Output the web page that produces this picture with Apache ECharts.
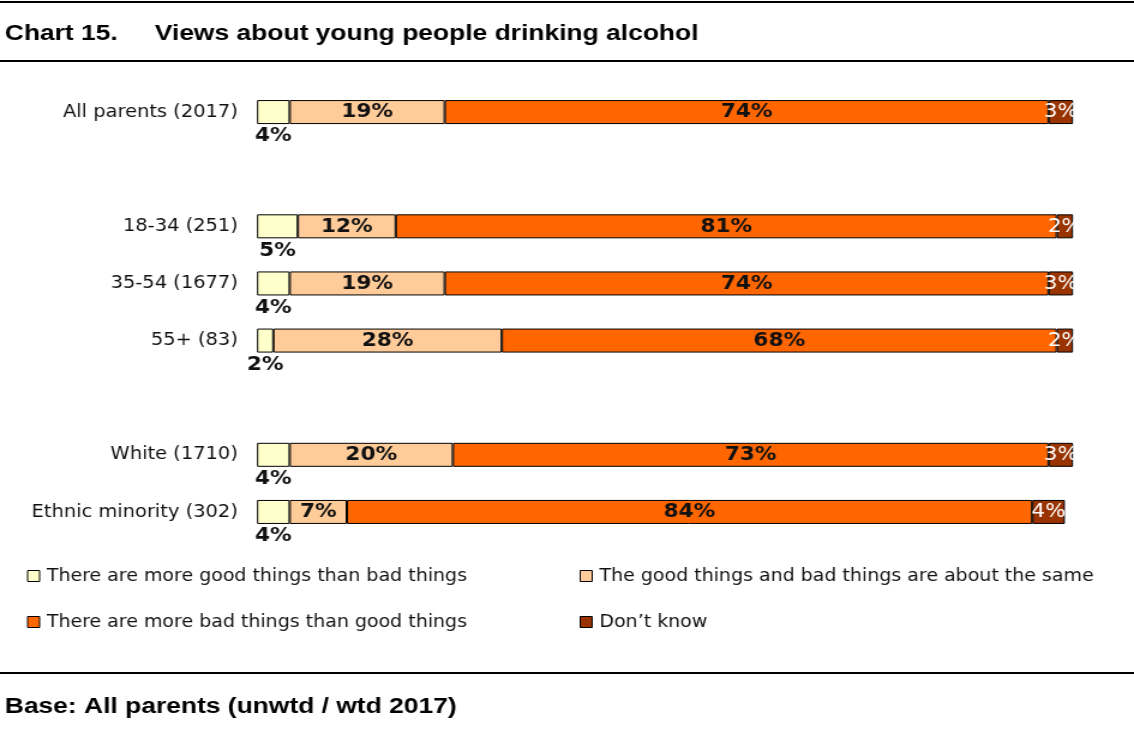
<!DOCTYPE html>
<html>
<head>
<meta charset="utf-8">
<script src="https://cdn.jsdelivr.net/npm/echarts@6/dist/echarts.min.js"></script>
<style>
  html, body { margin: 0; padding: 0; background: #fff; overflow: hidden; }
  /* the reference is a horizontally stretched picture, so the chart is drawn
     narrower and stretched back out to 1134px */
  #main { width: 945px; height: 730px; transform: scaleX(1.2); transform-origin: 0 0; }
</style>
</head>
<body>
<div id="main"></div>
<script>
// rows, blank strings are the spacer rows between groups
var categories = ['All parents (2017)', '', '18-34 (251)', '35-54 (1677)', '55+ (83)', ' ', 'White (1710)', 'Ethnic minority (302)']
var seriesNames = [
  'There are more good things than bad things',
  'The good things and bad things are about the same',
  'There are more bad things than good things',
  'Don\u2019t know'
]
var moreGood = [4, null, 5, 4, 2, null, 4, 4]
var aboutSame = [19, null, 12, 19, 28, null, 20, 7]
var moreBad = [74, null, 81, 74, 68, null, 73, 84]
var dontKnow = [3, null, 2, 3, 2, null, 3, 4]

var colors = ['#FFFFCC', '#FFCC99', '#FF6600', '#993300']
var labelFont = '"DejaVu Sans Condensed", "DejaVu Sans", sans-serif'
var headFont = '"Liberation Sans", Arial, sans-serif'
var headStyle = { fontFamily: headFont, fontSize: 22, fontWeight: 'bold', color: '#000' }

function makeSeries(name, data, color, label) {
  return {
    name: name,
    type: 'bar',
    stack: 'total',
    data: data,
    barWidth: 24,
    itemStyle: { color: color, borderColor: '#000', borderWidth: 1 },
    label: Object.assign({
      show: true,
      formatter: '{c}%',
      fontFamily: labelFont,
      fontWeight: 'bold',
      fontSize: 20,
      color: '#111'
    }, label)
  }
}

function legendFor(names, left) {
  return {
    data: names,
    orient: 'vertical',
    left: left, top: 567,
    padding: 0,
    itemWidth: 10, itemHeight: 11, itemGap: 28,
    icon: 'rect',
    itemStyle: { borderColor: '#000', borderWidth: 1 },
    textStyle: { fontFamily: labelFont, fontSize: 17.6, color: '#111', padding: [0, 0, 0, 1] }
  }
}

var myChart = echarts.init(document.getElementById('main'))
myChart.setOption({
  animation: false,
  title: [
    { text: 'Chart 15.', left: 4, top: 23, padding: 0, textStyle: headStyle },
    { text: 'Views about young people drinking alcohol', left: 129, top: 23, padding: 0, textStyle: headStyle },
    { text: 'Base: All parents (unwtd / wtd 2017)', left: 4, top: 696, padding: 0, textStyle: headStyle }
  ],
  graphic: [
    { type: 'line', shape: { x1: 0, y1: 2, x2: 945, y2: 2 }, style: { stroke: '#000', lineWidth: 2 } },
    { type: 'line', shape: { x1: 0, y1: 61, x2: 945, y2: 61 }, style: { stroke: '#000', lineWidth: 2 } },
    { type: 'line', shape: { x1: 0, y1: 673, x2: 945, y2: 673 }, style: { stroke: '#000', lineWidth: 2 } }
  ],
  legend: [
    legendFor([seriesNames[0], seriesNames[2]], 22.5),
    legendFor([seriesNames[1], seriesNames[3]], 483)
  ],
  grid: { left: 214.2, top: 83.5, width: 680, height: 457 },
  xAxis: { type: 'value', min: 0, max: 100, show: false },
  yAxis: {
    type: 'category',
    data: categories,
    inverse: true,
    axisLine: { show: false },
    axisTick: { show: false },
    axisLabel: { fontFamily: labelFont, fontSize: 18, color: '#111', margin: 16 }
  },
  series: [
    makeSeries(seriesNames[0], moreGood, colors[0], { position: 'bottom', distance: 2 }),
    makeSeries(seriesNames[1], aboutSame, colors[1], { position: 'inside' }),
    makeSeries(seriesNames[2], moreBad, colors[2], { position: 'inside' }),
    makeSeries(seriesNames[3], dontKnow, colors[3], { position: 'inside', color: '#fff', fontWeight: 'normal', fontSize: 20 })
  ]
})
</script>
</body>
</html>
